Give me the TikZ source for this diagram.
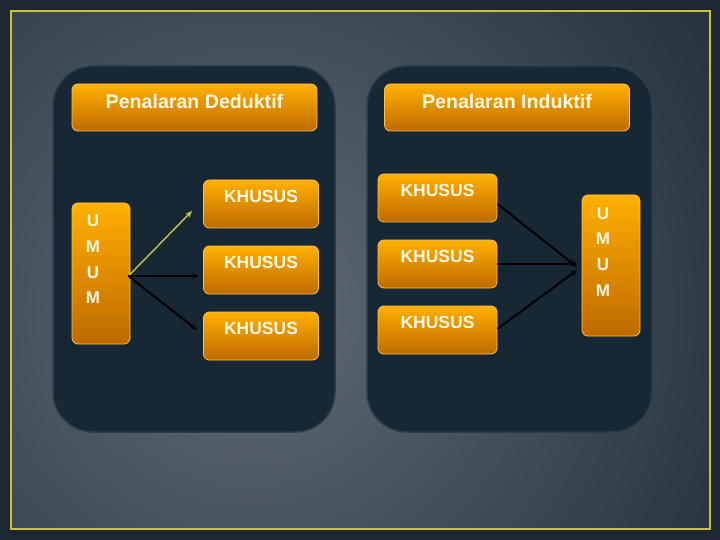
\documentclass[tikz,border=0pt]{standalone}
\usepackage{fontspec}
\setmainfont{Liberation Sans}
\usetikzlibrary{arrows.meta,calc}
\definecolor{outerbg}{HTML}{1C2731}
\definecolor{bglight}{HTML}{606B75}
\definecolor{bgdark}{HTML}{1E2A34}
\definecolor{frameyel}{HTML}{C9C236}
\definecolor{panelfill}{HTML}{172733}
\definecolor{paneledge}{HTML}{2C3D4A}
\definecolor{ortop}{HTML}{FFB000}
\definecolor{orbot}{HTML}{BE6A00}
\definecolor{oredge}{HTML}{FFC24A}
\definecolor{txtcol}{HTML}{FFF8E6}
\definecolor{arryel}{HTML}{C8C845}
\begin{document}
\begin{tikzpicture}[x=1pt,y=-1pt,
  panel/.style={fill=panelfill, draw=paneledge, line width=1.5pt, rounded corners=40pt},
  obox/.style={draw=oredge, line width=0.8pt, rounded corners=6pt, top color=ortop, bottom color=orbot, inner sep=0pt},
  hdr/.style={obox, minimum width=245pt, minimum height=47pt},
  kbox/.style={obox, minimum width=115pt, minimum height=48pt},
  ubox/.style={obox, minimum width=58pt, minimum height=141pt},
  htxt/.style={text=txtcol, font=\bfseries\fontsize{19.6}{22}\selectfont, inner sep=0pt},
  ktxt/.style={text=txtcol, font=\bfseries\fontsize{17.5}{20}\selectfont, inner sep=0pt},
  utxt/.style={text=txtcol, font=\bfseries\fontsize{17}{25.7}\selectfont, align=center, inner sep=0pt},
  blk/.style={draw=black, line width=2pt, -{Stealth[length=7pt,width=6pt]}},
  yel/.style={draw=arryel, line width=1.4pt, -{Stealth[length=7pt,width=5.5pt]}}
]
\useasboundingbox (0,0) rectangle (720,540);
% background
\fill[outerbg] (0,0) rectangle (720,540);
\begin{scope}
  \clip (11,11) rectangle (710,529);
  \shade[inner color=bglight, outer color=bgdark] (250,310) circle (620);
\end{scope}
\draw[frameyel, line width=2.5pt] (11,11) rectangle (710,529);
% panels
\draw[panel] (53,66) rectangle (335,432);
\draw[panel] (367,66) rectangle (652,432);
% headers
\node[hdr] (hL) at (194.5,107.5) {};
\node[htxt] at (194.5,101) {Penalaran Deduktif};
\node[hdr] (hR) at (507,107.5) {};
\node[htxt] at (507,101) {Penalaran Induktif};
% left side
\node[ubox] (uL) at (101,273.5) {};
\node[utxt] at (93,259.5) {U\\M\\U\\M};
\node[kbox] (k1) at (261,204) {};
\node[ktxt] at (261,196) {KHUSUS};
\node[kbox] (k2) at (261,270) {};
\node[ktxt] at (261,262) {KHUSUS};
\node[kbox] (k3) at (261,336) {};
\node[ktxt] at (261,328) {KHUSUS};
% right side
\node[kbox, minimum width=119pt] (k4) at (437.5,198) {};
\node[ktxt] at (437.5,190) {KHUSUS};
\node[kbox, minimum width=119pt] (k5) at (437.5,264) {};
\node[ktxt] at (437.5,256) {KHUSUS};
\node[kbox, minimum width=119pt] (k6) at (437.5,330) {};
\node[ktxt] at (437.5,322) {KHUSUS};
\node[ubox] (uR) at (611,265.5) {};
\node[utxt] at (603,252) {U\\M\\U\\M};
% connectors
\coordinate (ls) at ($(uL.east)+(-2,2.5)$);
\coordinate (e1) at (192,211);
\coordinate (e2) at (199,276);
\coordinate (e3) at (197,330);
\draw[yel] (ls) -- (e1);
\draw[blk] (ls) -- (e2);
\draw[blk] (ls) -- (e3);
\coordinate (s4) at ($(k4.east)+(0,6)$);
\coordinate (s5) at (k5.east);
\coordinate (s6) at ($(k6.east)+(0,-1)$);
\coordinate (f4) at (577,267);
\coordinate (f5) at (577,264);
\coordinate (f6) at (577,270);
\draw[blk] (s4) -- (f4);
\draw[blk] (s5) -- (f5);
\draw[blk] (s6) -- (f6);
\end{tikzpicture}
\end{document}
